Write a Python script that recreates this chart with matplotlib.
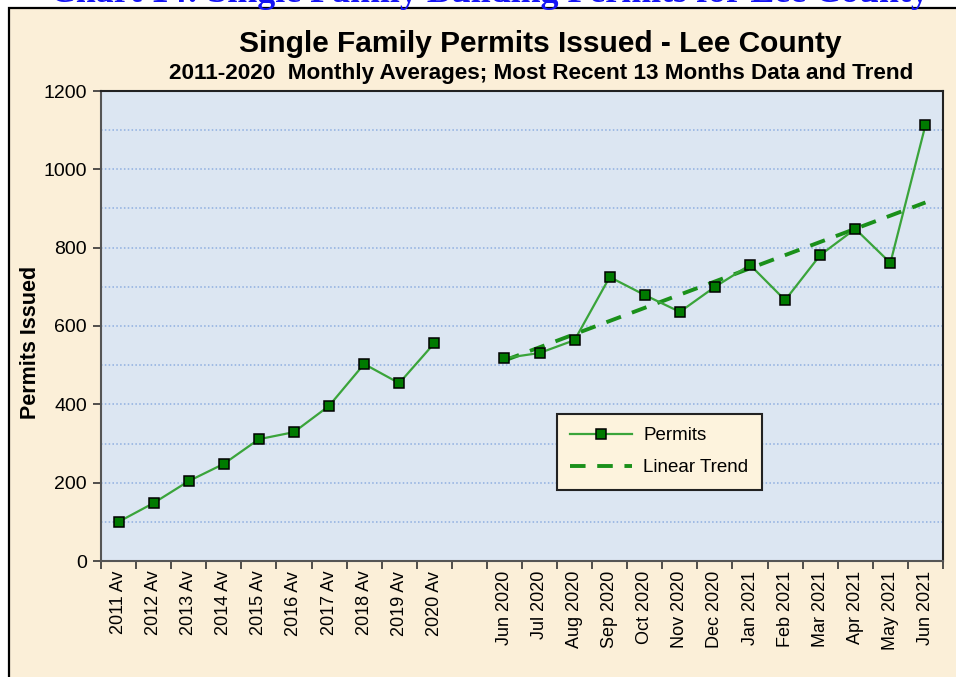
import matplotlib.pyplot as plt
import numpy as np
from matplotlib.patches import Rectangle
from matplotlib.lines import Line2D

plt.rcParams['font.family'] = ['Liberation Sans', 'DejaVu Sans']

annual_labels = ['2011 Av', '2012 Av', '2013 Av', '2014 Av', '2015 Av',
                 '2016 Av', '2017 Av', '2018 Av', '2019 Av', '2020 Av']
annual_values = [100, 148, 204, 248, 311, 329, 396, 503, 454, 556]

month_labels = ['Jun 2020', 'Jul 2020', 'Aug 2020', 'Sep 2020', 'Oct 2020',
                'Nov 2020', 'Dec 2020', 'Jan 2021', 'Feb 2021', 'Mar 2021',
                'Apr 2021', 'May 2021', 'Jun 2021']
month_values = [518, 531, 564, 725, 679, 636, 700, 756, 666, 781, 848, 761, 1113]

parchment = '#FBEFD8'
green_line = '#3AA43A'
green_mark = '#007A00'
green_trend = '#1A901A'


def main():
    fig = plt.figure(figsize=(9.56, 6.77), dpi=100, facecolor='white')

    # parchment frame
    frame = Rectangle((9 / 956, -0.1), 1.2, 1.1 - 8 / 677, transform=fig.transFigure,
                      facecolor=parchment, edgecolor='black', linewidth=1.6, zorder=-5)
    fig.patches.append(frame)

    # blue caption, cut off at the top
    fig.text(0.512, 1 - 2.5 / 677, 'Chart 14: Single Family Building Permits for Lee County',
             ha='center', va='baseline', color='#1414F5', fontsize=25.8, fontweight='bold',
             family=['Liberation Serif', 'DejaVu Serif'], zorder=-4)

    ax = fig.add_axes([101 / 956, 1 - 561 / 677, 842 / 956, 470 / 677])
    ax.set_facecolor('#DCE6F2')

    n_a = len(annual_values)
    xa = np.arange(n_a)
    xm = np.arange(len(month_values)) + n_a + 1

    ax.plot(xa, annual_values, color=green_line, lw=1.6, marker='s', ms=6.5,
            mfc=green_mark, mec='black', mew=1.1, zorder=4)
    ax.plot(xm, month_values, color=green_line, lw=1.6, marker='s', ms=6.5,
            mfc=green_mark, mec='black', mew=1.1, zorder=4)

    # linear trend of the 13 months
    k, b = np.polyfit(np.arange(len(month_values)), month_values, 1)
    trend = k * np.arange(len(month_values)) + b
    ax.plot(xm, trend, color=green_trend, lw=2.8, ls=(0, (4, 3)), zorder=3)

    ax.set_xlim(-0.5, xm[-1] + 0.5)
    ax.set_ylim(0, 1200)
    ax.set_yticks(range(0, 1201, 200))
    ax.set_yticks(range(100, 1200, 200), minor=True)
    ax.grid(axis='y', which='both', color='#8EAEE0', ls=(0, (1, 1.5)), lw=1.1)
    ax.set_axisbelow(True)

    ax.set_xticks(list(xa) + list(xm))
    ax.set_xticklabels(annual_labels + month_labels, rotation=90, fontsize=13)
    ax.set_xticks(np.arange(-0.5, xm[-1] + 1, 1), minor=True)
    ax.tick_params(axis='x', which='major', length=0, pad=7)
    ax.tick_params(axis='x', which='minor', length=6, width=1.2, color='#333333', direction='out')
    ax.tick_params(axis='y', which='major', length=6, width=1.2, color='#333333', labelsize=14, pad=4)
    ax.tick_params(axis='y', which='minor', length=0)

    for side in ['left', 'bottom']:
        ax.spines[side].set_color('#555555')
        ax.spines[side].set_linewidth(1.5)
    for side in ['top', 'right']:
        ax.spines[side].set_color('#222222')
        ax.spines[side].set_linewidth(1.5)

    ax.set_ylabel('Permits Issued', fontsize=15.5, fontweight='bold')
    ax.yaxis.set_label_coords(-0.071, 0.466)

    fig.text(540 / 956, 1 - 44 / 677, 'Single Family Permits Issued - Lee County',
             ha='center', va='center', fontsize=21.5, fontweight='bold')
    fig.text(541 / 956, 1 - 73 / 677,
             '2011-2020  Monthly Averages; Most Recent 13 Months Data and Trend',
             ha='center', va='center', fontsize=16.2, fontweight='bold')

    handles = [Line2D([], [], color=green_line, lw=1.6, marker='s', ms=6.5,
                      mfc=green_mark, mec='black', mew=1.1),
               Line2D([], [], color=green_trend, lw=2.8, ls=(0, (4, 3)))]
    leg = ax.legend(handles, ['Permits', 'Linear Trend'], loc='upper left',
                    bbox_to_anchor=((557 - 101) / 842, (561 - 414) / 470),
                    borderaxespad=0, fontsize=13.5, frameon=True, fancybox=False,
                    framealpha=1, facecolor='#FDF3DD', edgecolor='#222222',
                    handlelength=3.3, handletextpad=0.6, labelspacing=0.8, borderpad=0.7)
    leg.get_frame().set_linewidth(1.5)

    fig.savefig('out.png', dpi=100, facecolor=fig.get_facecolor())


if __name__ == '__main__':
    main()
